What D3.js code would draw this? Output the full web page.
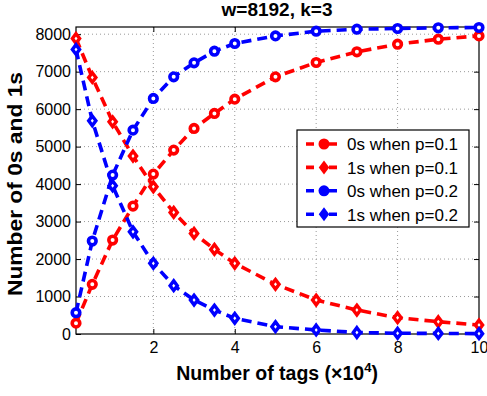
<!DOCTYPE html>
<html><head><meta charset="utf-8">
<script src="https://cdn.jsdelivr.net/npm/d3@7"></script>
<style>body{margin:0;background:#fff}svg{display:block;font-family:"Liberation Sans",Arial,sans-serif}</style>
</head><body><svg id="c" width="487" height="396"></svg>
<script>
const xTags = [0.1,0.5,1,1.5,2,2.5,3,3.5,4,5,6,7,8,9,10];
const zeros01 = [290,1325,2507,3413,4267,4907,5485,5885,6267,6862,7245,7530,7733,7867,7955];
const ones01  = [7885,6845,5662,4747,3929,3245,2685,2258,1885,1325,907,640,435,328,240];
const zeros02 = [568,2480,4240,5440,6285,6862,7235,7547,7752,7955,8080,8133,8152,8170,8178];
const ones02  = [7592,5690,3955,2728,1885,1290,907,640,418,195,107,40,20,15,10];
const xTicks = [2,4,6,8,10];
const yTicks = [0,1000,2000,3000,4000,5000,6000,7000,8000];
const seriesNames = ["0s when p=0.1","1s when p=0.1","0s when p=0.2","1s when p=0.2"];
const seriesColors = ["#ff0000","#ff0000","#0000ff","#0000ff"];
const seriesShapes = ["circle","diamond","circle","diamond"];
const seriesData = [zeros01, ones01, zeros02, ones02];

const svg = d3.select("#c");
const L=76,R=479,T=27,B=334;
const x = d3.scaleLinear().domain([0.1,10]).range([L,R]);
const y = d3.scaleLinear().domain([0,8192]).range([B,T]);

// grid
const g = svg.append("g");
g.selectAll(".gx").data(xTicks.filter(d=>d<10)).enter().append("line")
 .attr("x1",d=>x(d)).attr("x2",d=>x(d)).attr("y1",T).attr("y2",B)
 .attr("stroke","#999").attr("stroke-width",1).attr("stroke-dasharray","1,3");
g.selectAll(".gy").data(yTicks.filter(d=>d>0)).enter().append("line")
 .attr("x1",L).attr("x2",R).attr("y1",d=>y(d)).attr("y2",d=>y(d))
 .attr("stroke","#999").attr("stroke-width",1).attr("stroke-dasharray","1,3");

// axes
svg.append("g").attr("transform",`translate(0,${B})`)
 .call(d3.axisBottom(x).tickValues(xTicks).tickSize(-5).tickPadding(8).tickFormat(d3.format("d")));
svg.append("g").attr("transform",`translate(${L},0)`)
 .call(d3.axisLeft(y).tickValues(yTicks).tickSize(-5).tickPadding(5).tickFormat(d3.format("d")));
svg.append("g").attr("transform",`translate(0,${T})`)
 .call(d3.axisTop(x).tickValues(xTicks).tickSize(-5).tickFormat(""));
svg.append("g").attr("transform",`translate(${R},0)`)
 .call(d3.axisRight(y).tickValues(yTicks).tickSize(-5).tickFormat(""));
svg.selectAll(".domain").remove();
svg.selectAll(".tick line").attr("stroke","#000");
svg.selectAll(".tick text").attr("font-size",16).attr("fill","#000").attr("font-family","Liberation Sans,Arial,sans-serif");
svg.append("rect").attr("x",L).attr("y",T).attr("width",R-L).attr("height",B-T)
 .attr("fill","none").attr("stroke","#000").attr("stroke-width",1.2);

const diamond = (cx,cy,s)=>`M${cx},${cy-s}L${cx+s*0.75},${cy}L${cx},${cy+s}L${cx-s*0.75},${cy}Z`;
function marker(sel, shape, cx, cy, color){
  if(shape==="circle"){
    sel.append("circle").attr("cx",cx).attr("cy",cy).attr("r",3.8)
      .attr("fill","#fff").attr("stroke",color).attr("stroke-width",3.6);
  } else {
    sel.append("path").attr("d",diamond(cx,cy,4.8))
      .attr("fill","#fff").attr("stroke",color).attr("stroke-width",3.4).attr("stroke-linejoin","miter");
  }
}

const line = d3.line().x((d,i)=>x(xTags[i])).y(d=>y(d));
const plot = svg.append("g");
seriesData.forEach((vals,k)=>{
  plot.append("path").datum(vals).attr("d",line).attr("fill","none")
    .attr("stroke",seriesColors[k]).attr("stroke-width",3.6).attr("stroke-dasharray","10,6");
});
seriesData.forEach((vals,k)=>{
  vals.forEach((v,i)=>marker(plot, seriesShapes[k], x(xTags[i]), y(v), seriesColors[k]));
});

// legend
const lg = svg.append("g");
lg.append("rect").attr("x",297).attr("y",130).attr("width",172).attr("height",97)
  .attr("fill","#fff").attr("stroke","#000").attr("stroke-width",1.2);
seriesNames.forEach((n,k)=>{
  const yy = 144 + k*23.4;
  lg.append("line").attr("x1",306).attr("x2",343).attr("y1",yy).attr("y2",yy)
    .attr("stroke",seriesColors[k]).attr("stroke-width",3.6).attr("stroke-dasharray","8,15");
  if(seriesShapes[k]==="circle"){
    lg.append("circle").attr("cx",324).attr("cy",yy).attr("r",5.5).attr("fill",seriesColors[k]);
  } else {
    lg.append("path").attr("d",diamond(324,yy,7)).attr("fill",seriesColors[k]);
  }
  lg.append("text").attr("x",347).attr("y",yy+6.3).attr("font-size",17).text(n);
});

// titles
svg.append("text").attr("x",277).attr("y",16).attr("text-anchor","middle")
  .attr("font-weight","bold").attr("font-size",19).text("w=8192, k=3");
svg.append("text").attr("transform","translate(22,184) rotate(-90)").attr("text-anchor","middle")
  .attr("font-weight","bold").attr("font-size",21)
  .attr("textLength",224).attr("lengthAdjust","spacingAndGlyphs").text("Number of 0s and 1s");
const xl = svg.append("text").attr("x",277).attr("y",380).attr("text-anchor","middle")
  .attr("font-weight","bold").attr("font-size",19.5);
xl.append("tspan").text("Number of tags (×10");
xl.append("tspan").attr("dy",-8).attr("font-size",13).text("4");
xl.append("tspan").attr("dy",8).text(")");
</script></body></html>
